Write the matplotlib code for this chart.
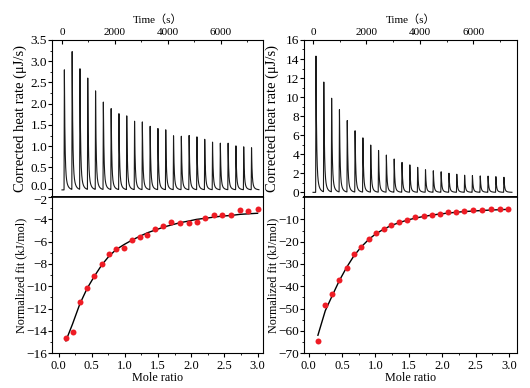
import numpy as np
import matplotlib
matplotlib.use('Agg')
import matplotlib.pyplot as plt
from matplotlib.ticker import MultipleLocator, FormatStrFormatter
from matplotlib.transforms import ScaledTranslation

plt.rcParams['font.family'] = ['Liberation Serif', 'Noto Sans CJK SC']
plt.rcParams['font.size'] = 9
plt.rcParams['axes.linewidth'] = 0.8

# injection times (s)
inj_time_L = [90, 385, 680, 975, 1270, 1565, 1860, 2155, 2450, 2745, 3040, 3335, 3630,
              3925, 4220, 4515, 4810, 5105, 5400, 5695, 5990, 6285, 6580, 6875, 7170]
inj_time_R = [110, 403, 696, 989, 1282, 1575, 1868, 2161, 2454, 2747, 3040, 3333, 3626,
              3919, 4212, 4505, 4798, 5091, 5384, 5677, 5970, 6263, 6556, 6849, 7150]
# peak heights (uJ/s)
peak_L = [2.90, 3.25, 2.90, 2.65, 2.36, 2.10, 1.93, 1.84, 1.75, 1.66, 1.60, 1.53, 1.44,
          1.44, 1.28, 1.28, 1.30, 1.26, 1.22, 1.13, 1.13, 1.10, 1.06, 1.01, 1.01]
peak_R = [14.6, 11.8, 10.1, 8.9, 7.75, 6.6, 5.8, 5.0, 4.4, 3.9, 3.5, 3.15, 2.9,
          2.65, 2.4, 2.3, 2.2, 2.05, 1.95, 1.85, 1.8, 1.75, 1.72, 1.65, 1.62]

# mole ratio and normalized heats (kJ/mol)
mole_ratio_L = [0.11, 0.21, 0.32, 0.43, 0.54, 0.65, 0.76, 0.87, 0.99, 1.11, 1.23, 1.34, 1.46,
                1.58, 1.70, 1.83, 1.96, 2.08, 2.21, 2.34, 2.47, 2.60, 2.73, 2.86, 3.00]
mole_ratio_R = [0.14, 0.25, 0.35, 0.46, 0.57, 0.68, 0.79, 0.90, 1.01, 1.13, 1.24, 1.36, 1.48,
                1.60, 1.72, 1.84, 1.96, 2.08, 2.21, 2.33, 2.46, 2.60, 2.73, 2.86, 2.99]
heat_L = [-14.66, -14.15, -11.41, -10.19, -9.12, -8.02, -7.12, -6.68, -6.53, -5.84, -5.57,
          -5.37, -4.89, -4.62, -4.20, -4.32, -4.29, -4.20, -3.85, -3.58, -3.64, -3.64,
          -3.19, -3.28, -3.04]
fit_L = [-14.9, -13.4, -11.6, -10.2, -9.1, -8.1, -7.3, -6.7, -6.25, -5.85, -5.5, -5.2,
         -4.95, -4.7, -4.5, -4.3, -4.15, -4.0, -3.9, -3.8, -3.7, -3.65, -3.55, -3.5, -3.45]
heat_R = [-64.8, -48.4, -43.6, -37.3, -31.6, -25.5, -22.2, -19.0, -16.1, -14.2, -12.4,
          -11.3, -10.1, -9.1, -8.4, -7.9, -7.6, -6.7, -6.7, -6.3, -5.8, -5.7, -5.5, -5.2, -5.4]
fit_R = [-62.0, -51.0, -44.5, -37.5, -31.5, -26.3, -22.3, -19.0, -16.4, -14.3, -12.7,
         -11.4, -10.3, -9.4, -8.7, -8.1, -7.6, -7.2, -6.8, -6.5, -6.25, -6.0, -5.8, -5.65, -5.5]

yticks_t_L = [0.0, 0.5, 1.0, 1.5, 2.0, 2.5, 3.0, 3.5]
yticks_t_R = [0, 2, 4, 6, 8, 10, 12, 14, 16]
yticks_b_L = [-16, -14, -12, -10, -8, -6, -4, -2]
yticks_b_R = [-70, -60, -50, -40, -30, -20, -10]


def thermogram(times, heights, base):
    # sharp injection spike with exponential return to baseline
    t = np.linspace(0, 7450, 6000)
    y = np.full_like(t, base)
    for t0, h in zip(times, heights):
        d = t - t0
        rise = np.clip((d + 12) / 12, 0, 1)
        dec = np.where(d > 0, 0.8 * np.exp(-d / 22) + 0.2 * np.exp(-d / 75), 1.0)
        y += h * rise * dec * (d > -12)
    return t, y


fig = plt.figure(figsize=(5.3, 3.88), dpi=100)

panels = [
    dict(times=inj_time_L, peaks=peak_L, mr=mole_ratio_L, heat=heat_L, fit=fit_L, base=-0.03,
         x0=0.098, x1=0.496, ylim_t=(-0.2, 3.5), yt_t=yticks_t_L, ymin_t=0.25,
         ylim_b=(-16, -2), yt_b=yticks_b_L, ymin_b=1, xlim_t=(-380, 7600), xlim_b=(-0.1, 3.08)),
    dict(times=inj_time_R, peaks=peak_R, mr=mole_ratio_R, heat=heat_R, fit=fit_R, base=0.0,
         x0=0.574, x1=0.975, ylim_t=(-0.5, 16), yt_t=yticks_t_R, ymin_t=1,
         ylim_b=(-70, 0), yt_b=yticks_b_R, ymin_b=5, xlim_t=(-330, 7630), xlim_b=(-0.065, 3.115)),
]

for i, p in enumerate(panels):
    w = p['x1'] - p['x0']
    axt = fig.add_axes([p['x0'], 0.492, w, 0.405])
    axb = fig.add_axes([p['x0'], 0.090, w, 0.402])

    t, y = thermogram(p['times'], p['peaks'], p['base'])
    axt.plot(t, y, color='#1a1a1a', lw=0.8)
    axt.set_xlim(*p['xlim_t'])
    axt.set_ylim(*p['ylim_t'])
    axt.xaxis.set_major_locator(MultipleLocator(2000))
    axt.xaxis.set_minor_locator(MultipleLocator(1000))
    axt.set_yticks(p['yt_t'])
    axt.yaxis.set_minor_locator(MultipleLocator(p['ymin_t']))
    if i == 0:
        axt.yaxis.set_major_formatter(FormatStrFormatter('%.1f'))
    axt.tick_params(axis='x', which='both', direction='in', top=True, bottom=False,
                    labeltop=True, labelbottom=False, pad=2, labelsize=8)
    axt.tick_params(axis='x', which='major', length=3)
    axt.tick_params(axis='x', which='minor', length=1.5)
    axt.tick_params(axis='y', which='both', direction='out', right=False, pad=0.5,
                    labelsize=9.5)
    axt.tick_params(axis='y', which='major', length=3)
    axt.tick_params(axis='y', which='minor', length=1.5)
    axt.xaxis.set_label_position('top')
    axt.set_xlabel('Time（s）', labelpad=4, fontsize=8)
    axt.set_ylabel('Corrected heat rate (μJ/s)', fontsize=10.5)
    axt.yaxis.set_label_coords(-0.118, 0.5)
    axt.spines['bottom'].set_linewidth(1.2)

    axb.plot(p['mr'], p['fit'], color='black', lw=1.0, zorder=2)
    axb.plot(p['mr'], p['heat'], 'o', color='#ee1c25', ms=4.3, mec='none', zorder=3)
    axb.set_xlim(*p['xlim_b'])
    axb.set_ylim(*p['ylim_b'])
    axb.xaxis.set_major_locator(MultipleLocator(0.5))
    axb.xaxis.set_minor_locator(MultipleLocator(0.25))
    axb.set_yticks(p['yt_b'])
    axb.yaxis.set_minor_locator(MultipleLocator(p['ymin_b']))
    axb.xaxis.set_major_formatter(FormatStrFormatter('%.1f'))
    axb.tick_params(axis='both', which='both', direction='out', right=False, top=False)
    axb.tick_params(axis='x', pad=2, labelsize=9)
    axb.tick_params(axis='y', pad=0.5, labelsize=9.5)
    axb.tick_params(axis='both', which='major', length=3)
    axb.tick_params(axis='both', which='minor', length=1.5)
    axb.set_xlabel('Mole ratio', labelpad=0, fontsize=8.7)
    axb.set_ylabel('Normalized fit (kJ/mol)', fontsize=8.7)
    axb.yaxis.set_label_coords(-0.118, 0.5)
    axb.spines['top'].set_linewidth(1.2)

    if i == 0:
        # "0.0" and "-2" sit right next to each other at the join, spread them a little
        lab_top = axt.get_yticklabels()[0]
        lab_top.set_transform(lab_top.get_transform() + ScaledTranslation(0, 2 / 72, fig.dpi_scale_trans))
        lab_bot = axb.get_yticklabels()[-1]
        lab_bot.set_transform(lab_bot.get_transform() + ScaledTranslation(0, -2 / 72, fig.dpi_scale_trans))

fig.savefig('out.png', dpi=100)
